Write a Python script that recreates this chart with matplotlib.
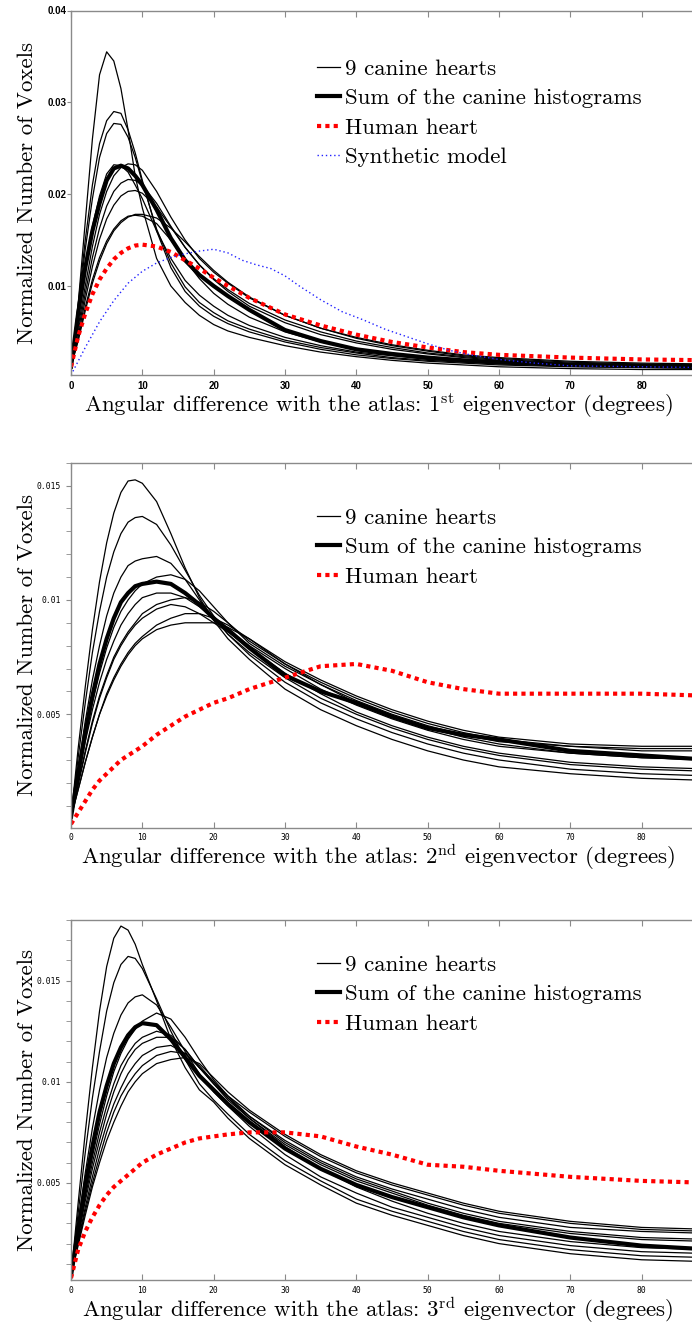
import matplotlib
matplotlib.use('Agg')
import matplotlib.pyplot as plt
from matplotlib.ticker import MultipleLocator, FixedLocator

plt.rcParams['mathtext.fontset'] = 'cm'
plt.rcParams['axes.unicode_minus'] = False

# ---------------- data ----------------
deg = [0, 1, 2, 3, 4, 5, 6, 7, 8, 9, 10, 12, 14, 16, 18, 20, 22, 25, 30, 35, 40, 45, 50, 55, 60, 70, 80, 90]

# Panel 1: first eigenvector
p1_dog1 = [0.0012, 0.008, 0.017, 0.026, 0.033, 0.0355, 0.0345, 0.0315, 0.027, 0.022, 0.0185, 0.0130, 0.0100, 0.0082, 0.0068, 0.0058, 0.0051, 0.0044, 0.0035, 0.0028, 0.0023, 0.0019, 0.0016, 0.0014, 0.0012, 0.0010, 0.0009, 0.0009]
p1_dog2 = [0.0012, 0.008, 0.015, 0.021, 0.0255, 0.028, 0.029, 0.0288, 0.027, 0.0245, 0.0215, 0.0160, 0.0120, 0.0094, 0.0078, 0.0067, 0.0059, 0.0050, 0.0039, 0.0031, 0.0025, 0.0021, 0.0018, 0.0016, 0.0014, 0.0012, 0.0011, 0.0010]
p1_dog3 = [0.0012, 0.0075, 0.014, 0.0195, 0.024, 0.0266, 0.0277, 0.0276, 0.0262, 0.024, 0.0213, 0.0162, 0.0125, 0.0099, 0.0082, 0.0071, 0.0062, 0.0053, 0.0041, 0.0033, 0.0027, 0.0022, 0.0019, 0.0017, 0.0015, 0.0013, 0.0012, 0.0011]
p1_dog4 = [0.0012, 0.0065, 0.012, 0.0165, 0.0198, 0.0222, 0.0232, 0.0231, 0.0224, 0.021, 0.0195, 0.0160, 0.0130, 0.0106, 0.0090, 0.0078, 0.0068, 0.0057, 0.0044, 0.0035, 0.0028, 0.0024, 0.0020, 0.0018, 0.0016, 0.0013, 0.0012, 0.0011]
p1_dog5 = [0.0012, 0.0055, 0.010, 0.0143, 0.0178, 0.0203, 0.0220, 0.0229, 0.0233, 0.0232, 0.0226, 0.0203, 0.0175, 0.0150, 0.0130, 0.0115, 0.0103, 0.0087, 0.0068, 0.0054, 0.0043, 0.0035, 0.0029, 0.0024, 0.0021, 0.0017, 0.0015, 0.0014]
p1_dog6 = [0.0012, 0.005, 0.0092, 0.0131, 0.0163, 0.0187, 0.0203, 0.0212, 0.0216, 0.0215, 0.0210, 0.0190, 0.0165, 0.0142, 0.0123, 0.0108, 0.0096, 0.0081, 0.0063, 0.0050, 0.0040, 0.0033, 0.0027, 0.0023, 0.0020, 0.0016, 0.0014, 0.0013]
p1_dog7 = [0.0012, 0.0045, 0.0085, 0.0121, 0.0151, 0.0173, 0.0188, 0.0198, 0.0203, 0.0204, 0.0201, 0.0186, 0.0164, 0.0142, 0.0123, 0.0107, 0.0094, 0.0078, 0.0060, 0.0047, 0.0038, 0.0031, 0.0026, 0.0022, 0.0019, 0.0015, 0.0013, 0.0012]
p1_dog8 = [0.0012, 0.004, 0.0073, 0.0103, 0.0127, 0.0146, 0.0160, 0.0169, 0.0175, 0.0178, 0.0178, 0.0174, 0.0163, 0.0148, 0.0132, 0.0117, 0.0104, 0.0088, 0.0068, 0.0054, 0.0044, 0.0036, 0.0030, 0.0025, 0.0022, 0.0018, 0.0016, 0.0015]
p1_dog9 = [0.0012, 0.0042, 0.0077, 0.0107, 0.0131, 0.0149, 0.0162, 0.0171, 0.0176, 0.0177, 0.0176, 0.0168, 0.0150, 0.0128, 0.0108, 0.0092, 0.0080, 0.0066, 0.0050, 0.0039, 0.0032, 0.0026, 0.0022, 0.0019, 0.0017, 0.0014, 0.0012, 0.0011]
p1_sum = [0.0012, 0.007, 0.012, 0.016, 0.019, 0.0215, 0.0228, 0.0231, 0.0228, 0.0220, 0.0210, 0.0183, 0.0152, 0.0128, 0.0112, 0.0100, 0.0089, 0.0074, 0.0052, 0.0040, 0.0031, 0.0026, 0.0022, 0.0019, 0.0017, 0.0014, 0.0013, 0.0012]
p1_human = [0.0012, 0.0045, 0.0070, 0.0091, 0.0107, 0.0119, 0.0129, 0.0136, 0.0141, 0.0144, 0.0145, 0.0143, 0.0137, 0.0128, 0.0119, 0.0109, 0.0100, 0.0087, 0.0069, 0.0057, 0.0047, 0.0039, 0.0033, 0.0028, 0.0025, 0.0022, 0.0020, 0.0019]
synth_deg = [0, 2, 4, 6, 8, 10, 12, 14, 16, 18, 20, 22, 24, 26, 28, 30, 32, 35, 38, 41, 44, 47, 50, 53, 56, 60, 65, 70, 80, 90]
p1_synth = [0.0003, 0.0033, 0.0061, 0.0084, 0.0103, 0.0116, 0.0125, 0.0131, 0.0135, 0.0138, 0.0140, 0.0136, 0.0128, 0.0123, 0.0119, 0.0111, 0.0100, 0.0085, 0.0072, 0.0063, 0.0053, 0.0045, 0.0037, 0.0030, 0.0025, 0.0020, 0.0016, 0.0013, 0.0012, 0.0011]

# Panel 2: second eigenvector
p2_dog1 = [0.0005, 0.0035, 0.0062, 0.0087, 0.0108, 0.0125, 0.0138, 0.0147, 0.0152, 0.01525, 0.0151, 0.0143, 0.0129, 0.0114, 0.0101, 0.0091, 0.0083, 0.0074, 0.0061, 0.0052, 0.0045, 0.0039, 0.0034, 0.0030, 0.0027, 0.0024, 0.0022, 0.0021]
p2_dog2 = [0.0005, 0.0031, 0.0055, 0.0077, 0.0095, 0.0110, 0.0121, 0.0129, 0.0134, 0.0136, 0.01365, 0.0133, 0.0124, 0.0113, 0.0102, 0.0093, 0.0085, 0.0076, 0.0064, 0.0055, 0.0048, 0.0042, 0.0037, 0.0033, 0.0030, 0.0026, 0.0024, 0.0023]
p2_dog3 = [0.0005, 0.0026, 0.0047, 0.0065, 0.0080, 0.0093, 0.0103, 0.0110, 0.0115, 0.0117, 0.0118, 0.0119, 0.0116, 0.0109, 0.0100, 0.0092, 0.0085, 0.0077, 0.0066, 0.0057, 0.0050, 0.0044, 0.0039, 0.0035, 0.0032, 0.0028, 0.0026, 0.0025]
p2_dog4 = [0.0005, 0.0023, 0.0040, 0.0055, 0.0068, 0.0079, 0.0088, 0.0095, 0.0100, 0.0104, 0.0107, 0.0110, 0.0111, 0.0109, 0.0104, 0.0097, 0.0090, 0.0081, 0.0071, 0.0063, 0.0056, 0.0050, 0.0045, 0.0041, 0.0038, 0.0036, 0.0035, 0.0035]
p2_dog5 = [0.0005, 0.0022, 0.0038, 0.0052, 0.0064, 0.0074, 0.0082, 0.0089, 0.0094, 0.0098, 0.0101, 0.0103, 0.0103, 0.0101, 0.0097, 0.0092, 0.0087, 0.0080, 0.0070, 0.0061, 0.0054, 0.0048, 0.0043, 0.0039, 0.0036, 0.0033, 0.0031, 0.0030]
p2_dog6 = [0.0005, 0.0020, 0.0034, 0.0047, 0.0058, 0.0067, 0.0075, 0.0081, 0.0086, 0.0090, 0.0094, 0.0098, 0.0100, 0.0101, 0.0099, 0.0095, 0.0090, 0.0082, 0.0072, 0.0064, 0.0057, 0.0051, 0.0046, 0.0042, 0.0039, 0.0036, 0.0034, 0.0034]
p2_dog7 = [0.0005, 0.0019, 0.0033, 0.0046, 0.0057, 0.0066, 0.0074, 0.0080, 0.0085, 0.0089, 0.0092, 0.0096, 0.0098, 0.0097, 0.0094, 0.0090, 0.0086, 0.0079, 0.0068, 0.0059, 0.0051, 0.0045, 0.0040, 0.0036, 0.0033, 0.0029, 0.0027, 0.0026]
p2_dog8 = [0.0005, 0.0017, 0.0029, 0.0040, 0.0050, 0.0059, 0.0066, 0.0072, 0.0077, 0.0081, 0.0084, 0.0089, 0.0092, 0.0094, 0.0094, 0.0092, 0.0089, 0.0083, 0.0073, 0.0065, 0.0058, 0.0052, 0.0047, 0.0043, 0.0040, 0.0037, 0.0036, 0.0036]
p2_dog9 = [0.0005, 0.0017, 0.0029, 0.0040, 0.0050, 0.0058, 0.0065, 0.0071, 0.0076, 0.0080, 0.0083, 0.0087, 0.0089, 0.0090, 0.0090, 0.0090, 0.0088, 0.0083, 0.0072, 0.0063, 0.0055, 0.0049, 0.0044, 0.0040, 0.0037, 0.0033, 0.0031, 0.0030]
p2_sum = [0.0005, 0.0024, 0.0042, 0.0058, 0.0072, 0.0083, 0.0092, 0.0099, 0.0103, 0.0106, 0.0107, 0.0108, 0.0107, 0.0103, 0.0098, 0.0092, 0.0087, 0.0079, 0.0067, 0.0060, 0.0055, 0.0049, 0.0044, 0.0041, 0.0039, 0.0034, 0.0032, 0.0030]
p2_human = [0.0002, 0.0007, 0.0012, 0.0017, 0.0021, 0.0024, 0.0027, 0.0030, 0.0032, 0.0034, 0.0036, 0.0041, 0.0045, 0.0049, 0.0052, 0.0055, 0.0057, 0.0061, 0.0066, 0.0071, 0.0072, 0.0069, 0.0064, 0.0061, 0.0059, 0.0059, 0.0059, 0.0058]

# Panel 3: third eigenvector
p3_dog1 = [0.0004, 0.0040, 0.0075, 0.0107, 0.0135, 0.0157, 0.0171, 0.0177, 0.0175, 0.0168, 0.0158, 0.0140, 0.0121, 0.0107, 0.0096, 0.0090, 0.0082, 0.0072, 0.0059, 0.0049, 0.0040, 0.0034, 0.0029, 0.0024, 0.0020, 0.0015, 0.0012, 0.0011]
p3_dog2 = [0.0004, 0.0035, 0.0065, 0.0092, 0.0115, 0.0135, 0.0149, 0.0158, 0.0162, 0.0161, 0.0156, 0.0141, 0.0125, 0.0111, 0.0099, 0.0091, 0.0084, 0.0074, 0.0061, 0.0051, 0.0042, 0.0036, 0.0031, 0.0026, 0.0022, 0.0017, 0.0014, 0.0013]
p3_dog3 = [0.0004, 0.0030, 0.0055, 0.0077, 0.0096, 0.0112, 0.0124, 0.0133, 0.0139, 0.0142, 0.0143, 0.0138, 0.0127, 0.0115, 0.0104, 0.0095, 0.0088, 0.0078, 0.0064, 0.0053, 0.0045, 0.0038, 0.0033, 0.0028, 0.0024, 0.0019, 0.0016, 0.0015]
p3_dog4 = [0.0004, 0.0025, 0.0045, 0.0063, 0.0079, 0.0093, 0.0105, 0.0114, 0.0121, 0.0126, 0.0130, 0.0134, 0.0131, 0.0122, 0.0111, 0.0101, 0.0093, 0.0083, 0.0070, 0.0060, 0.0052, 0.0046, 0.0040, 0.0035, 0.0031, 0.0026, 0.0023, 0.0022]
p3_dog5 = [0.0004, 0.0024, 0.0043, 0.0060, 0.0075, 0.0088, 0.0099, 0.0108, 0.0114, 0.0119, 0.0122, 0.0125, 0.0123, 0.0116, 0.0107, 0.0099, 0.0092, 0.0083, 0.0071, 0.0061, 0.0053, 0.0047, 0.0042, 0.0037, 0.0033, 0.0028, 0.0026, 0.0025]
p3_dog6 = [0.0004, 0.0023, 0.0041, 0.0057, 0.0071, 0.0084, 0.0095, 0.0104, 0.0111, 0.0116, 0.0119, 0.0122, 0.0122, 0.0116, 0.0107, 0.0099, 0.0091, 0.0082, 0.0069, 0.0059, 0.0051, 0.0045, 0.0039, 0.0034, 0.0030, 0.0025, 0.0022, 0.0021]
p3_dog7 = [0.0004, 0.0021, 0.0038, 0.0053, 0.0067, 0.0079, 0.0089, 0.0097, 0.0104, 0.0109, 0.0113, 0.0117, 0.0118, 0.0114, 0.0107, 0.0100, 0.0093, 0.0085, 0.0073, 0.0063, 0.0055, 0.0049, 0.0044, 0.0039, 0.0035, 0.0030, 0.0027, 0.0026]
p3_dog8 = [0.0004, 0.0020, 0.0036, 0.0050, 0.0063, 0.0075, 0.0085, 0.0093, 0.0099, 0.0104, 0.0108, 0.0113, 0.0115, 0.0114, 0.0108, 0.0100, 0.0092, 0.0082, 0.0068, 0.0057, 0.0048, 0.0041, 0.0035, 0.0030, 0.0026, 0.0021, 0.0018, 0.0017]
p3_dog9 = [0.0004, 0.0019, 0.0034, 0.0048, 0.0060, 0.0071, 0.0080, 0.0088, 0.0095, 0.0100, 0.0104, 0.0109, 0.0111, 0.0112, 0.0109, 0.0102, 0.0095, 0.0086, 0.0074, 0.0064, 0.0056, 0.0050, 0.0045, 0.0040, 0.0036, 0.0031, 0.0028, 0.0027]
p3_sum = [0.0004, 0.0027, 0.0049, 0.0068, 0.0085, 0.0098, 0.0109, 0.0117, 0.0123, 0.0127, 0.0129, 0.0128, 0.0121, 0.0112, 0.0103, 0.0096, 0.0089, 0.0080, 0.0067, 0.0057, 0.0049, 0.0043, 0.0038, 0.0033, 0.0029, 0.0023, 0.0019, 0.0017]
p3_human = [0.0003, 0.0017, 0.0026, 0.0033, 0.0039, 0.0044, 0.0048, 0.0051, 0.0054, 0.0057, 0.0060, 0.0064, 0.0067, 0.0070, 0.0072, 0.0073, 0.0074, 0.0075, 0.0075, 0.0073, 0.0068, 0.0064, 0.0059, 0.0058, 0.0056, 0.0053, 0.0051, 0.0050]

x_ticks = [0, 10, 20, 30, 40, 50, 60, 70, 80]
p1_yticks = [0.01, 0.02, 0.03, 0.04]
p1_yticklabels = ['0.01', '0.02', '0.03', '0.04']
p2_yticks = [0.005, 0.01, 0.015]
p3_yticks = [0.005, 0.01, 0.015]
p23_yticklabels = ['0.005', '0.01', '0.015']

labels_legend = ['9 canine hearts', 'Sum of the canine histograms', 'Human heart', 'Synthetic model']
xlabels = [r'Angular difference with the atlas: 1$^{\mathrm{st}}$ eigenvector (degrees)',
           r'Angular difference with the atlas: 2$^{\mathrm{nd}}$ eigenvector (degrees)',
           r'Angular difference with the atlas: 3$^{\mathrm{rd}}$ eigenvector (degrees)']
ylabel = 'Normalized Number of Voxels'

# ---------------- figure ----------------
W, H = 692, 1327
fig = plt.figure(figsize=(W / 100, H / 100), dpi=100)

serif = 'cmr10'
LABEL_FS = 16.5
SPINE_C = '#8a8a8a'

def make_ax(top_px, bot_px):
    left = 71 / W
    width = 642 / W
    return fig.add_axes([left, 1 - bot_px / H, width, (bot_px - top_px) / H])

panels = [
    dict(top=10.5, bot=375.5, ylim=(0.00025, 0.04),
         dogs=[p1_dog1, p1_dog2, p1_dog3, p1_dog4, p1_dog5, p1_dog6, p1_dog7, p1_dog8, p1_dog9],
         sumc=p1_sum, human=p1_human, synth=p1_synth,
         yticks=p1_yticks, yticklabels=p1_yticklabels, minor=None,
         tickfont=dict(family='Liberation Sans', weight='bold', size=7),
         ypad=0.5, ylen=3, leg_top=59),
    dict(top=462.7, bot=827.7, ylim=(0.00004, 0.016),
         dogs=[p2_dog1, p2_dog2, p2_dog3, p2_dog4, p2_dog5, p2_dog6, p2_dog7, p2_dog8, p2_dog9],
         sumc=p2_sum, human=p2_human, synth=None,
         yticks=p2_yticks, yticklabels=p23_yticklabels, minor=0.001,
         tickfont=dict(family='DejaVu Sans Mono', size=5.8),
         ypad=4, ylen=3.5, leg_top=508),
    dict(top=920, bot=1280, ylim=(0.0002, 0.018),
         dogs=[p3_dog1, p3_dog2, p3_dog3, p3_dog4, p3_dog5, p3_dog6, p3_dog7, p3_dog8, p3_dog9],
         sumc=p3_sum, human=p3_human, synth=None,
         yticks=p3_yticks, yticklabels=p23_yticklabels, minor=0.001,
         tickfont=dict(family='DejaVu Sans Mono', size=5.8),
         ypad=4, ylen=3.5, leg_top=955),
]

for i, p in enumerate(panels):
    ax = make_ax(p['top'], p['bot'])
    axh = p['bot'] - p['top']
    handles = []
    for j, d in enumerate(p['dogs']):
        h, = ax.plot(deg, d, color='black', lw=0.9, solid_joinstyle='round')
        if j == 0:
            handles.append(h)
    h, = ax.plot(deg, p['sumc'], color='black', lw=3.0, solid_joinstyle='round')
    handles.append(h)
    h, = ax.plot(deg, p['human'], color='#ff0000', lw=3.0, linestyle=(0, (1.0, 1.0)))
    handles.append(h)
    if p['synth'] is not None:
        h, = ax.plot(synth_deg, p['synth'], color='#2222ff', lw=1.0, linestyle=(0, (1, 2)))
        handles.append(h)

    ax.set_xlim(0, 90)
    ax.set_ylim(*p['ylim'])
    ax.xaxis.set_major_locator(FixedLocator(x_ticks))
    ax.set_xticklabels([str(t) for t in x_ticks], fontdict=p['tickfont'])
    ax.yaxis.set_major_locator(FixedLocator(p['yticks']))
    ax.set_yticklabels(p['yticklabels'], fontdict=p['tickfont'])
    if p['minor']:
        ax.yaxis.set_minor_locator(MultipleLocator(p['minor']))
        ax.tick_params(axis='y', which='minor', direction='out', length=p['ylen'], color=SPINE_C)
    ax.tick_params(axis='y', which='major', direction='out', length=p['ylen'], color=SPINE_C,
                   pad=p['ypad'])
    ax.tick_params(axis='x', which='major', direction='in', length=4, color=SPINE_C,
                   top=True, pad=4)
    for s in ax.spines.values():
        s.set_color(SPINE_C)
        s.set_linewidth(1.0)

    ax.set_xlabel(xlabels[i], family=serif, fontsize=LABEL_FS)
    ax.xaxis.set_label_coords((378 - 71) / 642, -15.5 / axh)
    ax.set_ylabel(ylabel, family=serif, fontsize=LABEL_FS)
    ax.yaxis.set_label_coords((37 - 71) / 642, 0.5)

    labs = labels_legend[:len(handles)]
    ax.legend(handles, labs, loc='upper left',
              bbox_to_anchor=(317 / W, 1 - p['leg_top'] / H),
              bbox_transform=fig.transFigure, frameon=False,
              prop=dict(family=serif, size=LABEL_FS),
              handlelength=1.0, handletextpad=0.22, labelspacing=0.41,
              borderpad=0, borderaxespad=0)

fig.savefig('out.png', dpi=100)
